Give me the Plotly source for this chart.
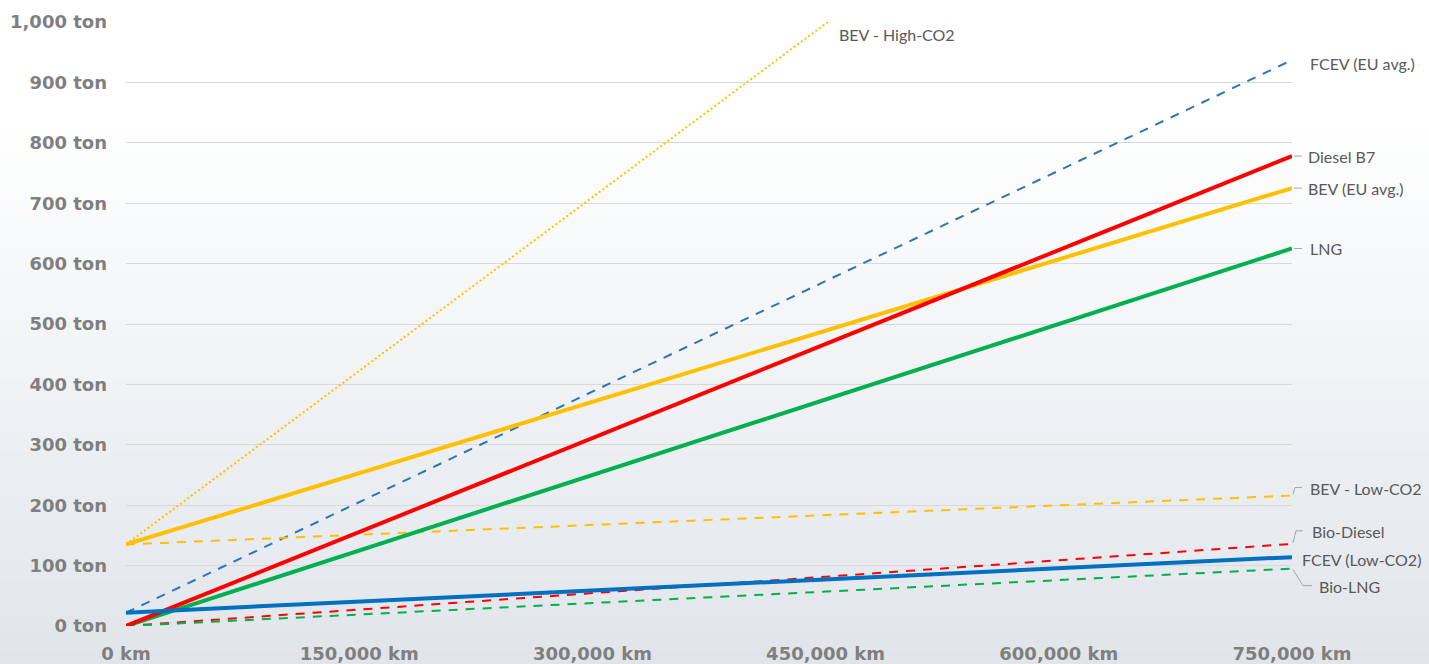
import plotly.graph_objects as go

# Cumulative CO2 emissions (ton) over lifetime distance (km)
distance_km = [0, 750000]

bev_high_co2 = [135, 1572]
fcev_eu_avg = [22, 937]
diesel_b7 = [0, 778]
bev_eu_avg = [135, 725]
lng = [0, 625]
bev_low_co2 = [135, 216]
bio_diesel = [0, 136]
bio_lng = [0, 95]
fcev_low_co2 = [22, 114]

x_ticks = [0, 150000, 300000, 450000, 600000, 750000]
x_tick_text = ["0 km", "150,000 km", "300,000 km", "450,000 km", "600,000 km", "750,000 km"]
y_ticks = [0, 100, 200, 300, 400, 500, 600, 700, 800, 900, 1000]
y_tick_text = ["0 ton", "100 ton", "200 ton", "300 ton", "400 ton", "500 ton",
               "600 ton", "700 ton", "800 ton", "900 ton", "1,000 ton"]

X_MAX, Y_MAX = 750000, 1000

W, H = 1429, 664
ML, MR, MT, MB = 126, 137, 22, 38
PH = H - MT - MB
PW = W - ML - MR

RED = "#FF0000"
YELLOW = "#FFC000"
GREEN = "#00B050"
BLUE = "#0070C0"
BLUE_D = "#2E75B6"
DASH = "9px,8px"
DOT = "2px,2.5px"

styles = {
    "BEV - High-CO2": (bev_high_co2, YELLOW, 2, DOT),
    "FCEV (EU avg.)": (fcev_eu_avg, BLUE_D, 2, DASH),
    "BEV - Low-CO2": (bev_low_co2, YELLOW, 2, DASH),
    "Bio-Diesel": (bio_diesel, RED, 2, DASH),
    "Bio-LNG": (bio_lng, GREEN, 2, DASH),
    "LNG": (lng, GREEN, 4, "solid"),
    "BEV (EU avg.)": (bev_eu_avg, YELLOW, 4, "solid"),
    "Diesel B7": (diesel_b7, RED, 4, "solid"),
    "FCEV (Low-CO2)": (fcev_low_co2, BLUE, 4, "solid"),
}

fig = go.Figure()
for name, (vals, color, width, dash) in styles.items():
    fig.add_trace(go.Scatter(
        x=distance_km, y=vals, mode="lines", name=name,
        line=dict(color=color, width=width, dash=dash),
        hoverinfo="skip", showlegend=False,
    ))

# Soft vertical background gradient: white at the top fading to a cool grey
shapes = []
bands = 110
top_c = (255, 255, 255)
bot_c = (225, 229, 234)
for i in range(bands):
    py0 = H * i / bands
    py1 = H * (i + 1) / bands + 0.6
    t = (py0 + py1) / 2 / H
    f = max(0.0, (t - 0.18) / 0.82)
    c = tuple(round(top_c[k] + (bot_c[k] - top_c[k]) * f) for k in range(3))
    shapes.append(dict(
        type="rect", xref="paper", yref="paper", layer="below",
        x0=-ML / PW, x1=1 + MR / PW,
        y0=(H - MB - py1) / PH, y1=(H - MB - py0) / PH,
        fillcolor="rgb(%d,%d,%d)" % c, line=dict(width=0),
    ))

# Series labels at the line ends, with small grey leader lines
label_font = dict(family="Lato, Open Sans, sans-serif", size=16, color="#595959")
LEAD = "#A6A6A6"
end_x = distance_km[-1]


def leader_path(yv, pts):
    """Path in paper units from pixel offsets relative to a line end."""
    segs = []
    for i, (dx, dy) in enumerate(pts):
        px = end_x / X_MAX + dx / PW
        py = yv / Y_MAX + dy / PH
        segs.append(("M" if i == 0 else "L") + " %.5f,%.5f" % (px, py))
    return " ".join(segs)


labels = [
    # text, anchor value, xshift, yshift, leader points (pixels from line end)
    ("FCEV (EU avg.)", fcev_eu_avg[-1], 16, -3, None),
    ("Diesel B7", diesel_b7[-1], 14, 0, [(2, 0), (10, 0)]),
    ("BEV (EU avg.)", bev_eu_avg[-1], 14, 0, [(2, 0), (10, 0)]),
    ("LNG", lng[-1], 16, 0, [(2, 0), (10, 0)]),
    ("BEV - Low-CO2", bev_low_co2[-1], 16, 7, [(1, 1), (3, 8), (10, 8)]),
    ("Bio-Diesel", bio_diesel[-1], 18, 12, [(1, 1), (4, 13), (11, 13)]),
    ("FCEV (Low-CO2)", fcev_low_co2[-1], 8, -2, None),
    ("Bio-LNG", bio_lng[-1], 25, -18, [(1, -1), (11, -17), (20, -17)]),
]

annotations = []
for text, yv, xs, ys, pts in labels:
    annotations.append(dict(
        x=end_x, y=yv, xref="x", yref="y", text=text, showarrow=False,
        xanchor="left", yanchor="middle", xshift=xs, yshift=ys, font=label_font,
    ))
    if pts:
        shapes.append(dict(
            type="path", xref="paper", yref="paper", layer="above",
            path=leader_path(yv, pts), line=dict(color=LEAD, width=1),
        ))

# The High-CO2 line leaves the plot at 1,000 ton; its label sits beside that point
high_exit_x = (Y_MAX - bev_high_co2[0]) / (bev_high_co2[1] - bev_high_co2[0]) * end_x
annotations.append(dict(
    x=high_exit_x, y=Y_MAX, xref="x", yref="y", text="BEV - High-CO2",
    showarrow=False, xanchor="left", yanchor="middle", xshift=9, yshift=-12,
    font=label_font,
))

tick_font = dict(family="DejaVu Sans", size=18, color="#7F7F7F", weight="bold")

fig.update_layout(
    width=W, height=H,
    margin=dict(l=ML, r=MR, t=MT, b=MB, pad=0, autoexpand=False),
    paper_bgcolor="white",
    plot_bgcolor="rgba(0,0,0,0)",
    shapes=shapes,
    annotations=annotations,
    showlegend=False,
    hovermode=False,
    xaxis=dict(
        range=[0, X_MAX], tickmode="array", tickvals=x_ticks, ticktext=x_tick_text,
        showgrid=False, zeroline=False, showline=False, ticks="", automargin=False,
        tickfont=tick_font, ticklabelstandoff=15, fixedrange=True,
    ),
    yaxis=dict(
        range=[0, Y_MAX], tickmode="array", tickvals=y_ticks, ticktext=y_tick_text,
        showgrid=True, gridcolor="#D9D9D9", gridwidth=1, zeroline=False, automargin=False,
        showline=False, ticks="", tickfont=tick_font, ticklabelstandoff=18,
        fixedrange=True,
    ),
)

fig.write_html("out.html", config={"displayModeBar": False})
